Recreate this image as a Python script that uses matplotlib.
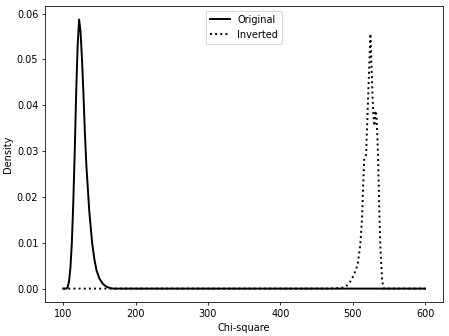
import matplotlib
matplotlib.use("Agg")
import matplotlib.pyplot as plt

# Original chi-square density
orig_x = [100, 104, 106, 108, 110, 112, 114, 116, 118, 120, 122, 124, 126, 128,
          130, 132, 134, 136, 138, 140, 143, 146, 150, 155, 160, 165, 170, 600]
orig_y = [0.0, 0.0, 0.0002, 0.0015, 0.0045, 0.010, 0.019, 0.030, 0.043, 0.053,
          0.0587, 0.056, 0.050, 0.0425, 0.034, 0.027, 0.022, 0.017, 0.0135,
          0.0100, 0.0065, 0.0040, 0.0022, 0.0010, 0.0004, 0.0001, 0.0, 0.0]

# Inverted chi-square density
inv_x = [100, 470, 480, 486, 491, 497, 502, 507, 510.5, 513, 514.5, 516, 518.5,
         521, 523.5, 524.5, 525.5, 527, 528.5, 530, 531.5, 533, 535, 537, 538.5,
         540.5, 542, 543, 600]
inv_y = [0.0, 0.0, 0.0001, 0.0002, 0.0005, 0.0016, 0.0031, 0.0053, 0.0096,
         0.0155, 0.0228, 0.0285, 0.0292, 0.0403, 0.0512, 0.0556, 0.051, 0.0437,
         0.038, 0.0355, 0.0388, 0.0372, 0.0293, 0.0155, 0.0082, 0.0023, 0.0005,
         0.0, 0.0]

fig = plt.figure(figsize=(449 / 70, 336 / 70), dpi=70)
ax = fig.add_subplot(111)
fig.subplots_adjust(left=0.1004, right=0.987, bottom=0.101, top=0.982)

ax.plot(orig_x, orig_y, color="black", linestyle="-", linewidth=2, label="Original")
ax.plot(inv_x, inv_y, color="black", linestyle=":", linewidth=2, label="Inverted")

ax.set_xlabel("Chi-square")
ax.set_ylabel("Density")
ax.legend(loc="upper center")

fig.savefig("out.png", dpi=70)
